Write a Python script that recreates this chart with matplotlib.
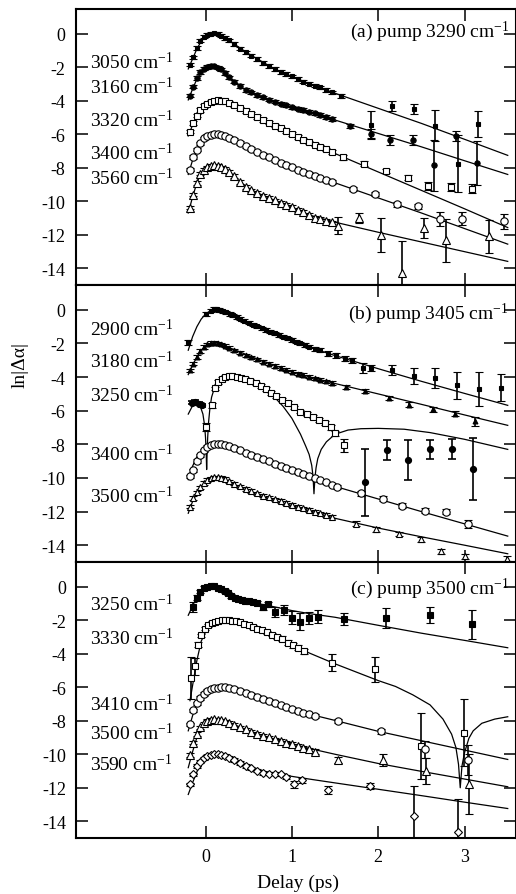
import numpy as np
import matplotlib
matplotlib.use('Agg')
import matplotlib.pyplot as plt

plt.rcParams['font.family'] = ['Liberation Serif', 'DejaVu Serif']
plt.rcParams['mathtext.fontset'] = 'custom'
plt.rcParams['mathtext.rm'] = 'Liberation Serif'
plt.rcParams['mathtext.it'] = 'Liberation Serif:italic'
plt.rcParams['axes.unicode_minus'] = False

# ---- shared delay grids (ps) ----
grid_t = [-0.18, -0.14, -0.10, -0.06, -0.02, 0.02, 0.06, 0.10, 0.14, 0.18, 0.22, 0.27, 0.33, 0.40, 0.47,
          0.53, 0.60, 0.67, 0.73, 0.80, 0.87, 0.93, 1.00, 1.07, 1.13, 1.20, 1.27, 1.33, 1.40, 1.47]
fit_t = [-0.2, -0.15, -0.1, -0.05, 0.0, 0.05, 0.1, 0.15, 0.2, 0.3, 0.4, 0.5, 0.6, 0.8, 1.0, 1.2, 1.5,
         2.0, 2.5, 3.0, 3.5]

# ---- (a) pump 3290 ----
a3050_dy = [-1.85, -1.4, -0.85, -0.42, -0.17, -0.05, 0.0, 0.02, 0.0, -0.12, -0.26, -0.4, -0.6, -0.88, -1.1,
            -1.3, -1.5, -1.75, -1.92, -2.1, -2.28, -2.4, -2.55, -2.7, -2.85, -2.98, -3.1, -3.2, -3.35, -3.5]
a3050_st = [1.57, 1.92, 2.16, 2.42, 2.66, 2.92, 3.16]
a3050_sy = [-3.74, -5.44, -4.33, -4.49, -5.48, -7.76, -5.38]
a3050_se = [0.12, 0.8, 0.3, 0.3, 0.95, 1.7, 0.77]
a3050_fit = [-2.1, -1.5, -0.9, -0.45, -0.15, -0.02, 0.02, 0.0, -0.12, -0.5, -0.85, -1.2, -1.5, -2.1, -2.55,
             -2.98, -3.55, -4.45, -5.35, -6.3, -7.26]

a3160_dy = [-3.7, -3.15, -2.65, -2.28, -2.08, -1.98, -1.93, -1.95, -2.02, -2.12, -2.35, -2.6, -2.85, -3.12, -3.35,
            -3.5, -3.65, -3.8, -3.93, -4.05, -4.17, -4.28, -4.4, -4.48, -4.56, -4.65, -4.75, -4.85, -4.96, -5.08]
a3160_st = [1.67, 1.92, 2.14, 2.40, 2.65, 2.90, 3.14]
a3160_sy = [-5.48, -5.98, -6.33, -6.35, -7.86, -6.08, -7.7]
a3160_se = [0.12, 0.3, 0.3, 0.3, 1.5, 0.3, 1.3]
a3160_fit = [-3.95, -3.3, -2.7, -2.3, -2.07, -1.97, -1.94, -1.99, -2.12, -2.75, -3.15, -3.45, -3.65, -4.05, -4.4,
             -4.67, -5.15, -5.95, -6.75, -7.58, -8.4]

a3320_dy = [-5.85, -5.32, -4.88, -4.55, -4.32, -4.17, -4.06, -4.0, -3.97, -3.99, -4.04, -4.12, -4.28, -4.45, -4.62,
            -4.78, -4.96, -5.15, -5.3, -5.48, -5.65, -5.8, -5.98, -6.16, -6.32, -6.48, -6.62, -6.75, -6.9, -7.05]
a3320_st = [1.59, 1.84, 2.09, 2.34, 2.58, 2.84, 3.09]
a3320_sy = [-7.36, -7.76, -8.19, -8.6, -9.1, -9.14, -9.24]
a3320_se = [0.15, 0.15, 0.12, 0.15, 0.25, 0.25, 0.25]
a3320_fit = [-6.1, -5.45, -4.88, -4.45, -4.2, -4.07, -3.99, -3.97, -3.99, -4.18, -4.45, -4.72, -4.96, -5.48, -5.98,
             -6.48, -7.15, -8.25, -9.35, -10.45, -11.57]

a3400_dy = [-8.11, -7.36, -6.92, -6.55, -6.25, -6.1, -6.02, -5.98, -5.98, -6.03, -6.1, -6.2, -6.35, -6.53, -6.72,
            -6.87, -7.03, -7.22, -7.38, -7.56, -7.7, -7.83, -7.97, -8.12, -8.24, -8.37, -8.5, -8.63, -8.74, -8.84]
a3400_st = [1.71, 1.96, 2.22, 2.46, 2.72, 2.97, 3.46]
a3400_sy = [-9.28, -9.54, -10.17, -10.29, -11.07, -11.03, -11.19]
a3400_se = [0.12, 0.12, 0.15, 0.15, 0.4, 0.4, 0.45]
a3400_fit = [-8.4, -7.55, -6.9, -6.45, -6.2, -6.07, -6.0, -5.98, -6.03, -6.25, -6.53, -6.78, -7.03, -7.56, -7.97,
             -8.37, -8.9, -9.8, -10.7, -11.63, -12.56]

a3560_dy = [-10.39, -9.6, -8.9, -8.35, -8.12, -7.98, -7.9, -7.86, -7.9, -7.98, -8.08, -8.25, -8.5, -8.85, -9.15,
            -9.35, -9.5, -9.68, -9.8, -9.95, -10.1, -10.22, -10.35, -10.52, -10.65, -10.8, -10.98, -11.05, -11.15, -11.25]
a3560_st = [1.53, 1.78, 2.03, 2.28, 2.53, 2.78, 3.28]
a3560_sy = [-11.45, -11.02, -12.0, -14.29, -11.6, -12.33, -12.1]
a3560_se = [0.5, 0.3, 1.0, 1.9, 0.6, 1.3, 1.0]
a3560_fit = [-10.7, -9.75, -8.9, -8.3, -8.05, -7.95, -7.88, -7.9, -7.98, -8.35, -8.85, -9.22, -9.5, -9.95, -10.35,
             -10.82, -11.25, -11.85, -12.43, -13.01, -13.59]

# ---- (b) pump 3405 ----
b2900_t = [-0.2, 0.01, 0.06, 0.1, 0.13, 0.16, 0.2, 0.24, 0.28, 0.32, 0.36, 0.4, 0.45, 0.5, 0.55, 0.6, 0.65, 0.7,
           0.75, 0.8, 0.85, 0.9, 0.95, 1.0, 1.05, 1.1, 1.15, 1.2, 1.27, 1.33, 1.42, 1.51, 1.61, 1.70, 1.82, 1.92,
           2.16, 2.42, 2.66, 2.91, 3.17, 3.42]
b2900_y = [-1.93, -0.23, -0.05, 0.05, 0.03, 0.0, -0.08, -0.15, -0.25, -0.33, -0.43, -0.53, -0.65, -0.77, -0.88,
           -0.98, -1.1, -1.2, -1.3, -1.4, -1.5, -1.6, -1.7, -1.8, -1.9, -2.0, -2.08, -2.18, -2.3, -2.4, -2.61, -2.7,
           -2.91, -3.0, -3.46, -3.46, -3.56, -3.93, -4.05, -4.49, -4.69, -4.63]
b2900_e = [0.15, 0.12, 0.1, 0.1, 0.1, 0.1, 0.1, 0.1, 0.1, 0.1, 0.1, 0.1, 0.1, 0.1, 0.1, 0.1, 0.1, 0.1, 0.1, 0.1,
           0.1, 0.1, 0.1, 0.1, 0.1, 0.1, 0.1, 0.1, 0.12, 0.12, 0.15, 0.15, 0.15, 0.15, 0.3, 0.2, 0.3, 0.5, 0.6, 0.8,
           1.0, 0.8]
b2900_fit = [-2.4, -1.6, -1.0, -0.55, -0.25, -0.07, 0.02, 0.0, -0.07, -0.3, -0.55, -0.8, -1.02, -1.45, -1.85,
             -2.22, -2.72, -3.5, -4.25, -4.97, -5.68]

b3180_dy = [-3.6, -3.2, -2.8, -2.45, -2.2, -2.05, -1.98, -1.97, -2.0, -2.05, -2.12, -2.25, -2.4, -2.55, -2.7,
            -2.82, -2.95, -3.08, -3.2, -3.33, -3.45, -3.55, -3.68, -3.8, -3.88, -3.98, -4.07, -4.15, -4.25, -4.35]
b3180_st = [1.63, 1.85, 2.13, 2.36, 2.63, 2.89, 3.12]
b3180_sy = [-4.59, -4.83, -5.24, -5.64, -5.91, -6.17, -6.63]
b3180_se = [0.1, 0.1, 0.12, 0.15, 0.15, 0.15, 0.25]
b3180_fit = [-3.85, -3.3, -2.8, -2.4, -2.15, -2.02, -1.97, -1.98, -2.06, -2.3, -2.5, -2.72, -2.92, -3.3, -3.68,
             -3.98, -4.38, -5.0, -5.62, -6.25, -6.87]

# 3250: open squares (positive signal), filled circles (negative signal)
b3250p_t = [0.0, 0.07, 0.11, 0.15, 0.19, 0.23, 0.27, 0.31, 0.36, 0.41, 0.46, 0.52, 0.58, 0.64, 0.70, 0.76, 0.82,
            0.89, 0.96, 1.03, 1.10, 1.17, 1.24, 1.31, 1.38, 1.45, 1.50, 1.60]
b3250p_y = [-6.97, -5.68, -4.66, -4.3, -4.1, -4.0, -3.95, -3.95, -3.98, -4.03, -4.1, -4.22, -4.38, -4.52, -4.7,
            -4.95, -5.12, -5.35, -5.55, -5.8, -6.05, -6.2, -6.35, -6.55, -6.72, -6.97, -7.35, -8.06]
b3250p_e = [0.25, 0.15, 0.1, 0.1, 0.1, 0.1, 0.1, 0.1, 0.1, 0.1, 0.1, 0.1, 0.1, 0.1, 0.1, 0.1, 0.1, 0.1, 0.1, 0.1,
            0.1, 0.1, 0.1, 0.12, 0.12, 0.15, 0.15, 0.4]
b3250n_t = [-0.16, -0.12, -0.08, -0.04, 1.85, 2.10, 2.35, 2.60, 2.85, 3.10]
b3250n_y = [-5.52, -5.48, -5.58, -5.68, -10.25, -8.36, -8.95, -8.30, -8.26, -9.45]
b3250n_e = [0.1, 0.1, 0.1, 0.1, 2.0, 0.6, 1.2, 0.55, 0.6, 1.85]
b3250_fit_t = [-0.2, -0.15, -0.1, -0.06, -0.03, -0.01, 0.0, 0.008, 0.013, 0.018, 0.025, 0.035, 0.05, 0.07, 0.1,
               0.14, 0.19, 0.25, 0.3, 0.4, 0.5, 0.6, 0.7, 0.8, 0.9, 1.0, 1.1, 1.16, 1.2, 1.23, 1.245, 1.256,
               1.267, 1.28, 1.3, 1.34, 1.4, 1.5, 1.65, 1.8, 2.0, 2.3, 2.6, 3.0, 3.5]
b3250_fit = [-6.2, -5.7, -5.55, -5.75, -6.2, -6.9, -7.6, -8.5, -9.5, -8.6, -7.6, -6.7, -5.9, -5.2, -4.7, -4.35,
             -4.1, -3.96, -3.93, -4.03, -4.2, -4.45, -4.85, -5.2, -5.75, -6.45, -7.4, -8.1, -8.6, -9.25, -9.9,
             -10.94, -10.0, -9.4, -8.85, -8.3, -7.85, -7.4, -7.15, -7.07, -7.05, -7.1, -7.3, -7.7, -8.3]

b3400_dy = [-9.9, -9.55, -9.0, -8.65, -8.35, -8.15, -8.05, -7.98, -7.96, -7.98, -8.03, -8.12, -8.22, -8.35, -8.5,
            -8.62, -8.76, -8.9, -9.02, -9.16, -9.28, -9.4, -9.52, -9.65, -9.76, -9.9, -10.02, -10.15, -10.26, -10.4]
b3400_st = [1.52, 1.80, 2.05, 2.28, 2.54, 2.79, 3.04]
b3400_sy = [-10.54, -10.9, -11.24, -11.64, -11.94, -12.0, -12.73]
b3400_se = [0.1, 0.15, 0.15, 0.15, 0.15, 0.15, 0.25]
b3400_fit = [-10.1, -9.3, -8.75, -8.4, -8.2, -8.08, -8.0, -7.97, -8.0, -8.15, -8.35, -8.55, -8.75, -9.15, -9.52,
             -9.9, -10.5, -11.25, -12.0, -12.73, -13.46]

b3500_dy = [-11.7, -11.2, -10.85, -10.55, -10.3, -10.12, -10.02, -9.97, -9.96, -10.0, -10.07, -10.2, -10.33, -10.5,
            -10.65, -10.78, -10.92, -11.05, -11.15, -11.27, -11.38, -11.48, -11.6, -11.7, -11.8, -11.9, -12.0,
            -12.1, -12.2, -12.3]
b3500_st = [1.74, 1.98, 2.24, 2.49, 2.73, 3.0, 3.49]
b3500_sy = [-12.73, -13.06, -13.32, -13.65, -14.37, -14.66, -14.8]
b3500_se = [0.15, 0.15, 0.12, 0.15, 0.15, 0.15, 0.15]
b3500_fit = [-12.1, -11.4, -10.9, -10.55, -10.25, -10.08, -9.98, -9.96, -10.05, -10.32, -10.6, -10.82, -11.03,
             -11.35, -11.64, -11.94, -12.4, -12.98, -13.5, -14.0, -14.51]

# ---- (c) pump 3500 ----
c3250_t = [-0.14, -0.1, -0.06, -0.02, 0.02, 0.06, 0.1, 0.14, 0.18, 0.22, 0.26, 0.3, 0.34, 0.38, 0.42, 0.46, 0.5,
           0.55, 0.6, 0.67, 0.72, 0.81, 0.91, 1.0, 1.1, 1.2, 1.3, 1.6, 2.09, 2.6, 3.09]
c3250_y = [-1.2, -0.65, -0.3, -0.08, 0.0, 0.03, 0.02, -0.05, -0.15, -0.25, -0.4, -0.55, -0.64, -0.7, -0.78, -0.82,
           -0.85, -0.9, -0.95, -1.2, -1.05, -1.5, -1.39, -1.85, -2.09, -1.85, -1.79, -1.93, -1.85, -1.69, -2.25]
c3250_e = [0.3, 0.15, 0.1, 0.1, 0.1, 0.1, 0.1, 0.1, 0.1, 0.1, 0.1, 0.1, 0.1, 0.1, 0.1, 0.1, 0.1, 0.1, 0.1, 0.2,
           0.15, 0.3, 0.3, 0.4, 0.5, 0.35, 0.4, 0.35, 0.6, 0.5, 0.87]
c3250_fit = [-1.7, -1.15, -0.6, -0.2, -0.03, 0.03, 0.02, -0.05, -0.18, -0.45, -0.68, -0.85, -1.0, -1.2, -1.42,
             -1.6, -1.82, -2.3, -2.77, -3.2, -3.64]

c3330_t = [-0.17, -0.12, -0.085, -0.05, -0.01, 0.03, 0.07, 0.11, 0.15, 0.19, 0.23, 0.27, 0.31, 0.35, 0.40, 0.45,
           0.50, 0.55, 0.60, 0.65, 0.71, 0.77, 0.83, 0.89, 0.95, 1.01, 1.07, 1.14, 1.46, 1.96, 2.49, 2.99]
c3330_y = [-5.45, -4.75, -3.45, -2.9, -2.5, -2.3, -2.17, -2.08, -2.02, -2.0, -2.0, -2.0, -2.02, -2.06, -2.12, -2.2,
           -2.3, -2.4, -2.5, -2.6, -2.72, -2.85, -3.0, -3.1, -3.35, -3.5, -3.65, -3.85, -4.53, -4.93, -9.51, -8.72]
c3330_e = [1.25, 0.5, 0.15, 0.1, 0.1, 0.1, 0.1, 0.1, 0.1, 0.1, 0.1, 0.1, 0.1, 0.1, 0.1, 0.1, 0.1, 0.1, 0.1, 0.1,
           0.1, 0.1, 0.1, 0.15, 0.15, 0.15, 0.15, 0.15, 0.5, 0.75, 1.95, 2.0]
c3330_fit_t = [-0.18, -0.15, -0.1, -0.05, 0.0, 0.05, 0.1, 0.15, 0.2, 0.25, 0.3, 0.4, 0.5, 0.6, 0.8, 1.0, 1.2, 1.5,
               1.8, 2.0, 2.2, 2.4, 2.6, 2.75, 2.85, 2.9, 2.93, 2.95, 2.97, 3.0, 3.05, 3.1, 3.2, 3.35, 3.5]
c3330_fit = [-6.8, -5.9, -4.4, -3.25, -2.7, -2.4, -2.2, -2.08, -2.02, -2.0, -2.01, -2.1, -2.28, -2.48, -2.95,
             -3.45, -3.95, -4.6, -5.2, -5.6, -5.95, -6.45, -7.05, -7.9, -8.8, -9.6, -10.6, -12.0, -10.7, -9.9,
             -9.05, -8.6, -8.15, -7.9, -7.76]

c3410_dy = [-8.22, -7.38, -6.95, -6.65, -6.4, -6.22, -6.12, -6.06, -6.02, -6.0, -6.0, -6.04, -6.1, -6.2, -6.33,
            -6.45, -6.58, -6.7, -6.82, -6.95, -7.08, -7.2, -7.3, -7.42, -7.52, -7.62]
c3410_st = [1.27, 1.53, 2.03, 2.54, 3.04]
c3410_sy = [-7.72, -8.0, -8.62, -9.71, -10.35]
c3410_se = [0.1, 0.12, 0.15, 0.5, 0.9]
c3410_fit = [-8.6, -7.7, -7.0, -6.6, -6.35, -6.18, -6.08, -6.02, -6.0, -6.07, -6.22, -6.4, -6.58, -6.95, -7.3,
             -7.6, -7.98, -8.63, -9.19, -9.75, -10.31]

c3500_dy = [-10.05, -9.3, -8.8, -8.4, -8.15, -8.02, -7.95, -7.92, -7.93, -7.97, -8.03, -8.12, -8.25, -8.4, -8.52,
            -8.65, -8.78, -8.88, -8.98, -9.1, -9.2, -9.3, -9.38, -9.5, -9.6, -9.7]
c3500_st = [1.27, 1.54, 2.05, 2.55, 3.05]
c3500_sy = [-9.85, -10.35, -10.35, -11.0, -11.78]
c3500_se = [0.15, 0.2, 0.35, 0.8, 1.8]
c3500_fit = [-10.8, -9.85, -9.0, -8.45, -8.17, -8.02, -7.94, -7.93, -7.98, -8.15, -8.38, -8.6, -8.78, -9.1, -9.38,
             -9.65, -10.0, -10.55, -11.02, -11.48, -11.94]

c3590_dy = [-11.8, -11.2, -10.7, -10.45, -10.25, -10.12, -10.05, -10.0, -10.0, -10.05, -10.1, -10.2, -10.35,
            -10.52, -10.7, -10.85, -10.98, -11.12, -11.15, -11.15, -11.2, -11.35]
c3590_st = [1.03, 1.12, 1.42, 1.91, 2.42, 2.92]
c3590_sy = [-11.8, -11.55, -12.15, -11.9, -13.7, -14.67]
c3590_se = [0.2, 0.15, 0.25, 0.2, 1.8, 2.0]
c3590_fit = [-12.4, -11.7, -11.05, -10.55, -10.25, -10.1, -10.02, -10.0, -10.04, -10.2, -10.45, -10.7, -10.92,
             -11.15, -11.32, -11.48, -11.71, -12.09, -12.47, -12.86, -13.24]

titles = ['(a) pump 3290 cm$^{-1}$', '(b) pump 3405 cm$^{-1}$', '(c) pump 3500 cm$^{-1}$']
probes_a = ['3050', '3160', '3320', '3400', '3560']
probes_b = ['2900', '3180', '3250', '3400', '3500']
probes_c = ['3250', '3330', '3410', '3500', '3590']


def draw(ax, t, y, e, ft, fy, marker, filled, ms):
    ax.plot(ft, fy, color='black', lw=0.9, zorder=2)
    ax.errorbar(t, y, yerr=e, fmt=marker, ms=ms, mfc='black' if filled else 'white', mec='black', mew=0.8,
                ecolor='black', elinewidth=1.2, capsize=3, capthick=1.2, zorder=3)


def dense_plus_sparse(dy, st, sy, se, de=0.1):
    t = grid_t[:len(dy)] + st
    y = dy + sy
    e = [de] * len(dy) + se
    return t, y, e


fig = plt.figure(figsize=(5.16, 8.95), dpi=100)
left, width = 76 / 516, 439.5 / 516
axa = fig.add_axes([left, 1 - 286 / 895, width, 276 / 895])
axb = fig.add_axes([left, 1 - 563 / 895, width, 277 / 895])
axc = fig.add_axes([left, 1 - 839 / 895, width, 276 / 895])

# panel a
for dy, st, sy, se, fy, m, f, ms in [
        (a3050_dy, a3050_st, a3050_sy, a3050_se, a3050_fit, 's', True, 3.2),
        (a3160_dy, a3160_st, a3160_sy, a3160_se, a3160_fit, 'o', True, 3.8),
        (a3320_dy, a3320_st, a3320_sy, a3320_se, a3320_fit, 's', False, 4.8),
        (a3400_dy, a3400_st, a3400_sy, a3400_se, a3400_fit, 'o', False, 5.3),
        (a3560_dy, a3560_st, a3560_sy, a3560_se, a3560_fit, '^', False, 5.3)]:
    t, y, e = dense_plus_sparse(dy, st, sy, se)
    draw(axa, t, y, e, fit_t, fy, m, f, ms)

# panel b
draw(axb, b2900_t, b2900_y, b2900_e, fit_t, b2900_fit, 's', True, 3.5)
t, y, e = dense_plus_sparse(b3180_dy, b3180_st, b3180_sy, b3180_se)
draw(axb, t, y, e, fit_t, b3180_fit, '^', True, 3.5)
draw(axb, b3250p_t, b3250p_y, b3250p_e, b3250_fit_t, b3250_fit, 's', False, 4.8)
axb.errorbar(b3250n_t, b3250n_y, yerr=b3250n_e, fmt='o', ms=4.2, mfc='black', mec='black', ecolor='black',
             elinewidth=1.2, capsize=3, capthick=1.2, zorder=3)
t, y, e = dense_plus_sparse(b3400_dy, b3400_st, b3400_sy, b3400_se)
draw(axb, t, y, e, fit_t, b3400_fit, 'o', False, 5.3)
t, y, e = dense_plus_sparse(b3500_dy, b3500_st, b3500_sy, b3500_se)
draw(axb, t, y, e, fit_t, b3500_fit, '^', False, 5.0)

# panel c
draw(axc, c3250_t, c3250_y, c3250_e, fit_t, c3250_fit, 's', True, 3.8)
draw(axc, c3330_t, c3330_y, c3330_e, c3330_fit_t, c3330_fit, 's', False, 4.8)
for dy, st, sy, se, fy, m, ms in [
        (c3410_dy, c3410_st, c3410_sy, c3410_se, c3410_fit, 'o', 5.3),
        (c3500_dy, c3500_st, c3500_sy, c3500_se, c3500_fit, '^', 5.3),
        (c3590_dy, c3590_st, c3590_sy, c3590_se, c3590_fit, 'D', 4.2)]:
    t, y, e = dense_plus_sparse(dy, st, sy, se)
    draw(axc, t, y, e, fit_t, fy, m, False, ms)

# probe labels (y positions are layout)
label_y = [[-1.63, -3.15, -5.09, -7.07, -8.61],
           [-1.12, -3.0, -5.05, -8.56, -11.04],
           [-1.0, -3.05, -6.97, -8.7, -10.55]]
title_y = [0.92, 0.9, 0.905]
for ax, probes, ly, title, ty in zip([axa, axb, axc], [probes_a, probes_b, probes_c], label_y, titles, title_y):
    ax.set_xlim(-1.5, 3.59)
    ax.set_ylim(-15.0, 1.48)
    ax.set_yticks([0, -2, -4, -6, -8, -10, -12, -14])
    ax.set_xticks([0, 1, 2, 3])
    ax.tick_params(direction='in', length=8.5, width=1.1, top=True, right=True, labelsize=13, pad=8)
    for s in ax.spines.values():
        s.set_linewidth(1.5)
    for p, yy in zip(probes, ly):
        ax.text(-1.34, yy, p + ' cm$^{-1}$', fontsize=14, ha='left', va='center')
    ax.text(0.985, ty, title, transform=ax.transAxes, fontsize=14, ha='right', va='center')

axa.tick_params(labelbottom=False)
axb.tick_params(labelbottom=False)
axc.tick_params(pad=7)

fig.text(20 / 516, 1 - 365 / 895, 'ln|Δα|', rotation=90, fontsize=14, ha='center', va='center')
fig.text(298 / 516, 1 - 883 / 895, 'Delay (ps)', fontsize=14, ha='center', va='center')

fig.savefig('out.png', dpi=100)
